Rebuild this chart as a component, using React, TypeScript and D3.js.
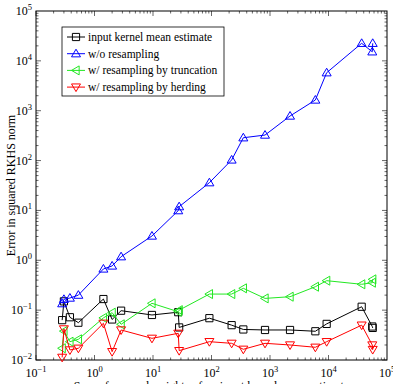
import { useEffect, useRef } from 'react';
import { select, scaleLog, line, range } from 'd3';

// sum of squared weights (shared by all four series)
const sumSqWeights = [
  0.28, 0.3, 0.38, 0.53, 1.42, 2.0, 2.85, 9.6, 27, 28, 92, 221, 350, 822, 2200,
  5960, 9300, 36900, 56000, 57000,
];
const inputEstimate = [
  0.063, 0.15, 0.072, 0.056, 0.167, 0.065, 0.0975, 0.08, 0.091, 0.045, 0.069,
  0.05, 0.041, 0.04, 0.04, 0.0377, 0.053, 0.117, 0.047, 0.044,
];
const noResampling = [
  0.135, 0.165, 0.175, 0.2, 0.67, 0.77, 1.18, 3.07, 9.9, 11.9, 36, 103, 287,
  325, 783, 1640, 5780, 22500, 15200, 22500,
];
const truncation = [
  0.0172, 0.038, 0.0233, 0.026, 0.07, 0.089, 0.052, 0.137, 0.093, 0.1, 0.21,
  0.21, 0.274, 0.172, 0.186, 0.295, 0.39, 0.33, 0.355, 0.415,
];
const herding = [
  0.0113, 0.042, 0.0159, 0.0172, 0.0545, 0.0147, 0.04, 0.0272, 0.0343, 0.0154,
  0.0233, 0.0216, 0.0164, 0.0216, 0.02, 0.018, 0.0233, 0.05, 0.02, 0.0162,
];

const xExponents = [-1, 0, 1, 2, 3, 4, 5];
const yExponents = [-2, -1, 0, 1, 2, 3, 4, 5];

const seriesNames = [
  'input kernel mean estimate',
  'w/o resampling',
  'w/ resampling by truncation',
  'w/ resampling by herding',
];
const seriesColors = ['#000000', '#0000ff', '#22e822', '#ff0000'];
const seriesMarkers = ['square', 'up', 'left', 'down'];

const FONT = '"Liberation Serif", "Times New Roman", serif';

const markerPath = (kind: string, s: number) => {
  if (kind === 'square') return `M${-s},${-s}H${s}V${s}H${-s}Z`;
  const r = s * 1.25;
  if (kind === 'up') return `M0,${-r}L${r},${r * 0.7}L${-r},${r * 0.7}Z`;
  if (kind === 'down') return `M0,${r}L${r},${-r * 0.7}L${-r},${-r * 0.7}Z`;
  return `M${-r},0L${r * 0.7},${-r}L${r * 0.7},${r}Z`;
};

const App = () => {
  const ref = useRef<SVGSVGElement>(null);

  useEffect(() => {
    const width = 393;
    const height = 384;
    const left = 36;
    const right = 387;
    const top = 11;
    const bottom = 360;

    const svg = select(ref.current);
    svg.selectAll('*').remove();

    const x = scaleLog().domain([0.1, 1e5]).range([left, right]);
    const y = scaleLog().domain([0.01, 1e5]).range([bottom, top]);

    svg.append('rect').attr('width', width).attr('height', height).attr('fill', '#fff');

    // ticks (inward, on all four sides)
    const ticks = svg.append('g').attr('stroke', '#000').attr('stroke-width', 0.6);
    xExponents.slice(0, -1).forEach((e) => {
      range(1, 10).forEach((m) => {
        const px = x(m * Math.pow(10, e));
        const len = m === 1 ? 5 : 2.5;
        ticks.append('line').attr('x1', px).attr('x2', px).attr('y1', bottom).attr('y2', bottom - len);
        ticks.append('line').attr('x1', px).attr('x2', px).attr('y1', top).attr('y2', top + len);
      });
    });
    yExponents.slice(0, -1).forEach((e) => {
      range(1, 10).forEach((m) => {
        const py = y(m * Math.pow(10, e));
        const len = m === 1 ? 5 : 2.5;
        ticks.append('line').attr('x1', left).attr('x2', left + len).attr('y1', py).attr('y2', py);
        ticks.append('line').attr('x1', right).attr('x2', right - len).attr('y1', py).attr('y2', py);
      });
    });

    svg
      .append('rect')
      .attr('x', left)
      .attr('y', top)
      .attr('width', right - left)
      .attr('height', bottom - top)
      .attr('fill', 'none')
      .attr('stroke', '#000')
      .attr('stroke-width', 1);

    // tick labels
    const label = (g: any, e: number) => {
      g.append('tspan').text('10');
      g.append('tspan').attr('dy', -5).attr('font-size', 8.5).text(String(e).replace('-', '\u2212'));
    };
    xExponents.forEach((e) => {
      const t = svg
        .append('text')
        .attr('x', x(Math.pow(10, e)))
        .attr('y', 377)
        .attr('text-anchor', 'middle')
        .attr('font-family', FONT)
        .attr('font-size', 12);
      label(t, e);
    });
    yExponents.forEach((e) => {
      const t = svg
        .append('text')
        .attr('x', 32)
        .attr('y', y(Math.pow(10, e)) + 4)
        .attr('text-anchor', 'end')
        .attr('font-family', FONT)
        .attr('font-size', 12);
      label(t, e);
    });

    // axis titles
    svg
      .append('text')
      .attr('x', (left + right) / 2)
      .attr('y', 390)
      .attr('text-anchor', 'middle')
      .attr('font-family', FONT)
      .attr('font-size', 12)
      .text('Sum of squared weights of an input kernel mean estimate');
    svg
      .append('text')
      .attr('transform', `translate(15,${(top + bottom) / 2}) rotate(-90)`)
      .attr('text-anchor', 'middle')
      .attr('font-family', FONT)
      .attr('font-size', 12)
      .text('Error in squared RKHS norm');

    // series
    const allSeries = [inputEstimate, noResampling, truncation, herding];
    const lineGen = line<number>()
      .x((_, i) => x(sumSqWeights[i]))
      .y((d) => y(d));

    allSeries.forEach((vals, k) => {
      const g = svg.append('g');
      g.append('path')
        .attr('d', lineGen(vals))
        .attr('fill', 'none')
        .attr('stroke', seriesColors[k])
        .attr('stroke-width', 1);
      g.selectAll('path.m')
        .data(vals)
        .enter()
        .append('path')
        .attr('class', 'm')
        .attr('transform', (d, i) => `translate(${x(sumSqWeights[i])},${y(d)})`)
        .attr('d', markerPath(seriesMarkers[k], 3.6))
        .attr('fill', 'none')
        .attr('stroke', seriesColors[k])
        .attr('stroke-width', 1);
    });

    // legend
    const lg = svg.append('g');
    lg.append('rect')
      .attr('x', 62)
      .attr('y', 27)
      .attr('width', 162)
      .attr('height', 69)
      .attr('fill', '#fff')
      .attr('stroke', '#000')
      .attr('stroke-width', 0.8);
    seriesNames.forEach((name, k) => {
      const ly = 37 + k * 16.7;
      lg.append('line')
        .attr('x1', 67)
        .attr('x2', 85)
        .attr('y1', ly)
        .attr('y2', ly)
        .attr('stroke', seriesColors[k])
        .attr('stroke-width', 1);
      lg.append('path')
        .attr('transform', `translate(76,${ly})`)
        .attr('d', markerPath(seriesMarkers[k], 3.6))
        .attr('fill', 'none')
        .attr('stroke', seriesColors[k])
        .attr('stroke-width', 1);
      lg.append('text')
        .attr('x', 88)
        .attr('y', ly + 4)
        .attr('font-family', FONT)
        .attr('font-size', 11.5)
        .text(name);
    });
  }, []);

  return (
    <>
      <style>{'body{margin:0}'}</style>
      <svg ref={ref} width={393} height={384} style={{ display: 'block', overflow: 'hidden' }} />
    </>
  );
};

export default App;
